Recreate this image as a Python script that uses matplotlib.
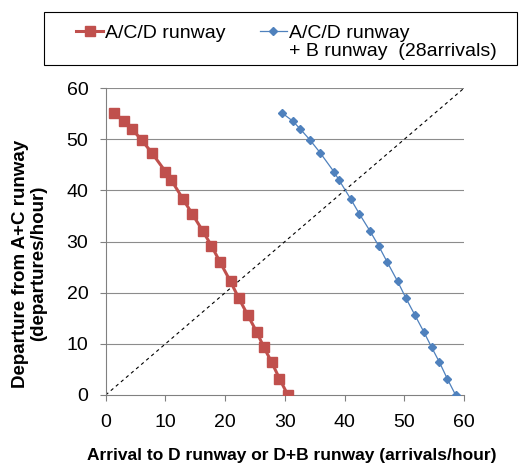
import matplotlib.pyplot as plt
from matplotlib.lines import Line2D
from matplotlib.patches import Rectangle

plt.rcParams['font.family'] = ['Liberation Sans', 'DejaVu Sans']

# A/C/D runway: arrivals vs departures
acd_arr = [1.4, 3.1, 4.4, 6.0, 7.7, 10.0, 11.0, 12.9, 14.5, 16.3,
           17.7, 19.1, 20.9, 22.3, 23.8, 25.3, 26.5, 27.8, 29.1, 30.5]
acd_dep = [55.1, 53.6, 52.0, 49.9, 47.4, 43.7, 42.0, 38.4, 35.4, 32.0,
           29.2, 26.1, 22.2, 18.9, 15.6, 12.3, 9.3, 6.4, 3.2, 0.0]

# A/C/D + B runway (28 arrivals)
acdb_arr = [29.6, 31.3, 32.6, 34.2, 35.9, 38.2, 39.1, 41.0, 42.5, 44.3,
            45.7, 47.1, 48.9, 50.3, 51.8, 53.3, 54.6, 55.9, 57.2, 58.6]
acdb_dep = acd_dep

diag = [0, 60]

red = '#c0504d'
blue = '#4f81bd'

fig = plt.figure(figsize=(5.26, 4.71), dpi=100)
ax = fig.add_axes([0.201, 0.1614, 0.681, 0.6513])

for y in range(10, 70, 10):
    ax.axhline(y, color='#8c8c8c', lw=0.8, zorder=0)

ax.plot(diag, diag, color='black', lw=0.8, ls=(0, (3, 3)), zorder=1)
ax.plot(acd_arr, acd_dep, color=red, lw=2.2, marker='s', ms=6.5, zorder=3)
ax.plot(acdb_arr, acdb_dep, color=blue, lw=0.9, marker='D', ms=4, zorder=3)

ax.set_xlim(0, 60)
ax.set_ylim(0, 60)
ax.set_xticks(range(0, 70, 10))
ax.set_yticks(range(0, 70, 10))
for s in ['top', 'right']:
    ax.spines[s].set_visible(False)
for s in ['left', 'bottom']:
    ax.spines[s].set_color('#808080')
ax.tick_params(axis='both', labelsize=14, color='#808080', length=4.5)
ax.tick_params(axis='x', pad=9)
ax.tick_params(axis='y', pad=8)

ax.set_xlabel('Arrival to D runway or D+B runway (arrivals/hour)',
              fontsize=12.5, fontweight='bold')
ax.xaxis.set_label_coords(0.52, -0.1744)
ax.set_ylabel('Departure from A+C runway\n(departures/hour)',
              fontsize=13.5, fontweight='bold', linespacing=1.1)
ax.yaxis.set_label_coords(-0.164, 0.4286)

# legend: box drawn separately, entries laid out in two columns
fig.patches.append(Rectangle((44 / 526, 1 - 65 / 471), 473 / 526, 53 / 471,
                             transform=fig.transFigure, fill=False,
                             edgecolor='black', lw=0.8))
blank = Line2D([], [], color='none')
handles = [Line2D([], [], color=red, lw=2.2, marker='s', ms=6.5), blank,
           Line2D([], [], color=blue, lw=0.9, marker='D', ms=4), blank]
labels = ['A/C/D runway', ' ', 'A/C/D runway', '+ B runway  (28arrivals)']
fig.legend(handles, labels, loc='upper left', ncol=2,
           bbox_to_anchor=(76 / 526, 1 - 24 / 471), frameon=False,
           fontsize=14, handlelength=1.4, handletextpad=0.1,
           columnspacing=1.75, labelspacing=0.05, borderpad=0,
           borderaxespad=0)

fig.savefig('out.png', dpi=100)
